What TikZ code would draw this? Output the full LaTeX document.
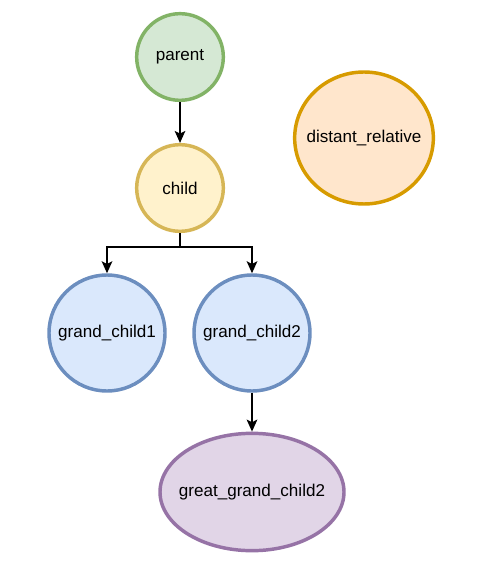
\documentclass[tikz,border=0pt]{standalone}
\usepackage{fontspec}
\setmainfont{Liberation Sans}
\usetikzlibrary{arrows.meta,shapes.geometric}
\definecolor{gfill}{HTML}{D5E8D4}\definecolor{gline}{HTML}{82B366}
\definecolor{yfill}{HTML}{FFF2CC}\definecolor{yline}{HTML}{D6B656}
\definecolor{ofill}{HTML}{FFE6CC}\definecolor{oline}{HTML}{D79B00}
\definecolor{bfill}{HTML}{DAE8FC}\definecolor{bline}{HTML}{6C8EBF}
\definecolor{pfill}{HTML}{E1D5E7}\definecolor{pline}{HTML}{9673A6}
\newcommand{\zw}[1]{\makebox[0pt]{#1}}
\begin{document}
\begin{tikzpicture}[x=0.75pt,y=-0.75pt,
  nd/.style={ellipse,line width=2.6pt,inner sep=0pt,font=\fontsize{12.8pt}{15pt}\selectfont},
  arr/.style={line width=1.1pt,-{Stealth[length=9pt,width=8pt,inset=2pt]}}]
\useasboundingbox (0,0) rectangle (477,573);
\node[nd,draw=gline,fill=gfill,minimum width=65pt,minimum height=65pt] (parent) at (180,57) {\zw{parent}};
\node[nd,draw=yline,fill=yfill,minimum width=65pt,minimum height=65pt] (child) at (180,188) {\zw{child}};
\node[nd,draw=oline,fill=ofill,minimum width=104pt,minimum height=99pt] (dist) at (364,138) {\zw{distant\_relative}};
\node[nd,draw=bline,fill=bfill,minimum width=87pt,minimum height=87pt] (gc1) at (107,333) {\zw{grand\_child1}};
\node[nd,draw=bline,fill=bfill,minimum width=87pt,minimum height=87pt] (gc2) at (252,333) {\zw{grand\_child2}};
\node[nd,draw=pline,fill=pfill,minimum width=138pt,minimum height=88pt] (ggc) at (252,492) {\zw{great\_grand\_child2}};
\coordinate (br) at (180,247);
\draw[arr] (parent) -- (child);
\draw[arr] (child.south) -- (br) -| (gc1.north);
\draw[arr] (br) -| (gc2.north);
\draw[arr] (gc2) -- (ggc);
\end{tikzpicture}
\end{document}
